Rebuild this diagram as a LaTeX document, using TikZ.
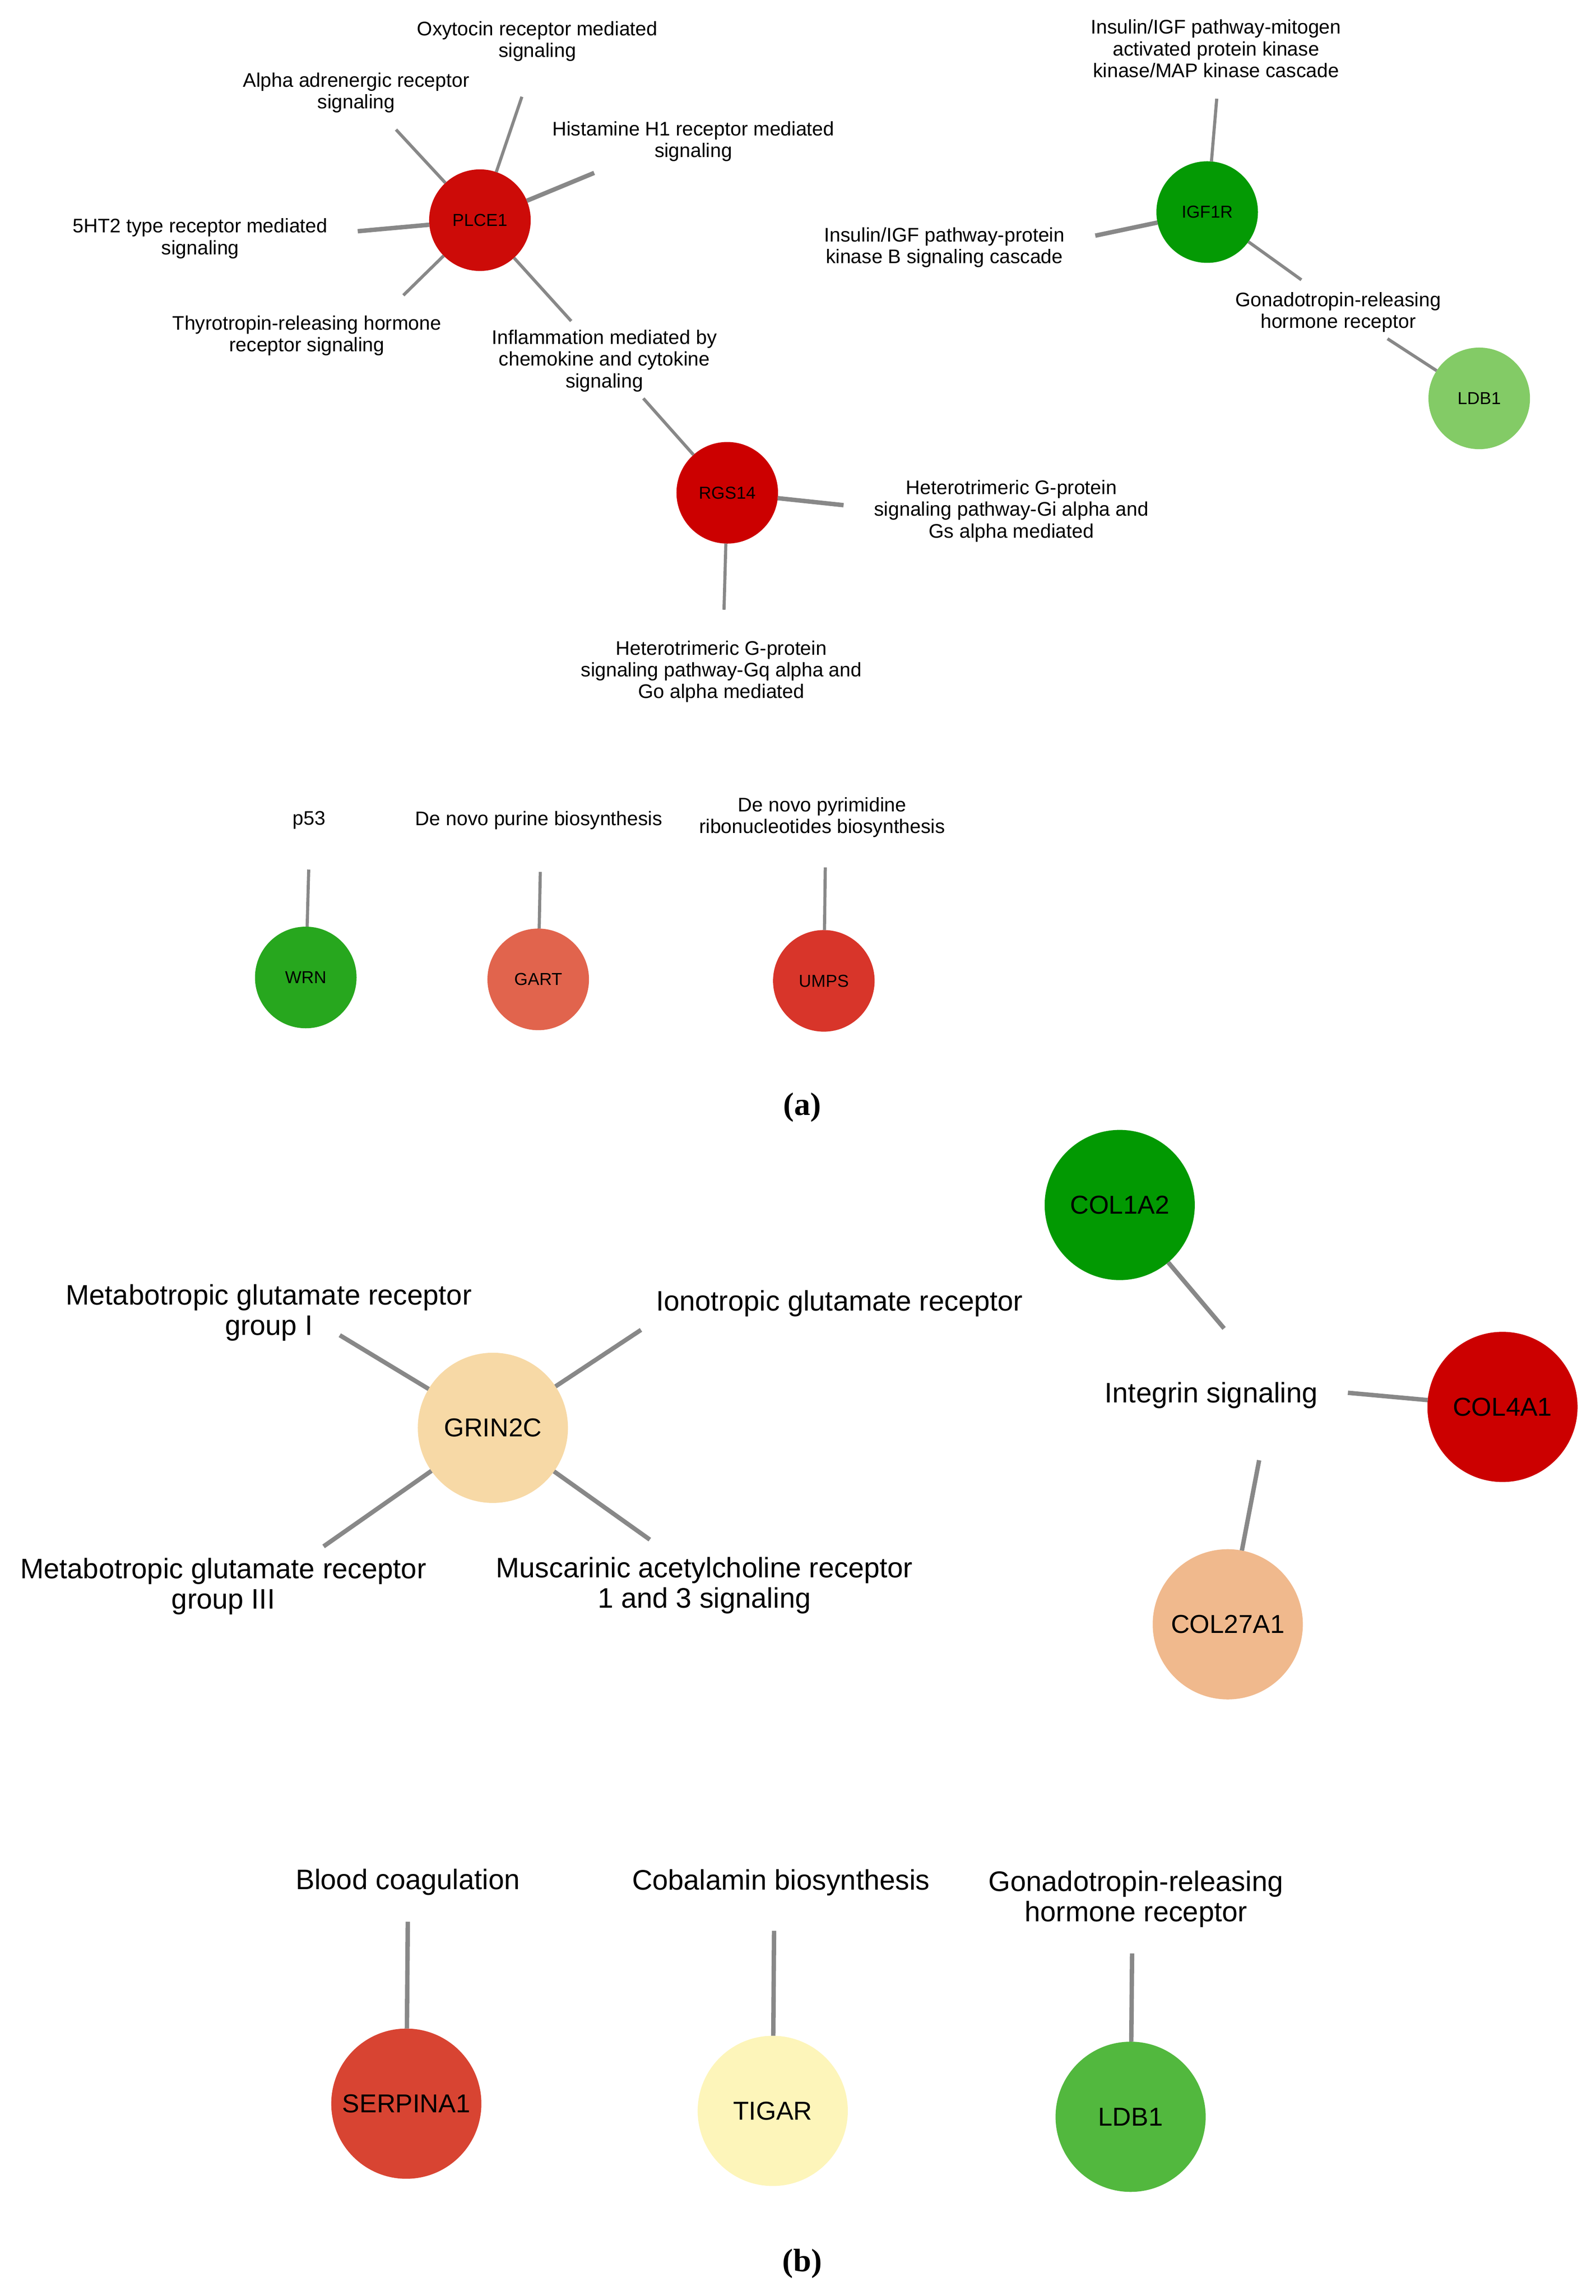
\documentclass[tikz,border=0pt]{standalone}
\usepackage{fontspec}
\usepackage{tikz}
\newfontfamily\arialfont{Liberation Sans}
\newfontfamily\capfont{Liberation Serif}
\definecolor{linkgray}{RGB}{136,136,136}
\definecolor{plcered}{RGB}{205,11,8}
\definecolor{rgsred}{RGB}{204,0,0}
\definecolor{igfgreen}{RGB}{4,154,4}
\definecolor{ldblight}{RGB}{131,203,102}
\definecolor{wrngreen}{RGB}{39,167,30}
\definecolor{gartred}{RGB}{225,100,77}
\definecolor{umpsred}{RGB}{216,53,42}
\definecolor{grinbeige}{RGB}{247,217,166}
\definecolor{colgreen}{RGB}{2,153,2}
\definecolor{colred}{RGB}{204,0,0}
\definecolor{colpeach}{RGB}{240,185,141}
\definecolor{serpred}{RGB}{216,68,50}
\definecolor{tigaryellow}{RGB}{253,245,186}
\definecolor{ldbgreen}{RGB}{82,184,62}

\begin{document}
\begin{tikzpicture}[x=0.02cm, y=-0.02cm,
    smallgene/.style={circle, minimum size=1.38cm, inner sep=0pt, outer sep=0pt, font=\arialfont\fontsize{6.7}{7.5}\selectfont},
    biggene/.style={circle, minimum size=2.04cm, inner sep=0pt, outer sep=0pt, font=\arialfont\fontsize{10}{11.5}\selectfont},
    smallterm/.style={align=center, inner sep=0pt, font=\arialfont\fontsize{7.6}{8.4}\selectfont},
    bigterm/.style={align=center, inner sep=0pt, font=\arialfont\fontsize{10.9}{11.8}\selectfont},
    link/.style={draw=linkgray, line width=1.2pt},
    thicklink/.style={draw=linkgray, line width=1.7pt},
    biglink/.style={draw=linkgray, line width=1.7pt},
    panel/.style={font=\capfont\bfseries\fontsize{12.5}{14}\selectfont}]
      \useasboundingbox (0,0) rectangle (1084,1559);

      \node[smallgene, fill=plcered] (plce) at (326,149.5) {PLCE1};
      \node[smallgene, fill=rgsred] (rgs) at (494,334.6) {RGS14};
      \node[smallgene, fill=igfgreen] (igf) at (820,144) {IGF1R};
      \node[smallgene, fill=ldblight] (ldba) at (1004.8,270.5) {LDB1};
      \node[smallgene, fill=wrngreen] (wrn) at (207.7,663.7) {WRN};
      \node[smallgene, fill=gartred] (gart) at (365.6,665) {GART};
      \node[smallgene, fill=umpsred] (umps) at (559.6,666) {UMPS};

      \node[smallterm] (oxy) at (365,28) {Oxytocin receptor mediated\\signaling};
      \node[smallterm] (alpha) at (242,63) {Alpha adrenergic receptor\\signaling};
      \node[smallterm] (hist) at (471,96) {Histamine H1 receptor mediated\\signaling};
      \node[smallterm] (ht) at (136,162) {5HT2 type receptor mediated\\signaling};
      \node[smallterm] (thyro) at (208.5,228) {Thyrotropin-releasing hormone\\receptor signaling};
      \node[smallterm] (inflam) at (410.5,245) {Inflammation mediated by\\chemokine and cytokine\\signaling};
      \node[smallterm] (gi) at (687,347) {Heterotrimeric G-protein\\signaling pathway-Gi alpha and\\Gs alpha mediated};
      \node[smallterm] (gq) at (490,456) {Heterotrimeric G-protein\\signaling pathway-Gq alpha and\\Go alpha mediated};
      \node[smallterm] (mapk) at (826,33) {Insulin/IGF pathway-mitogen\\activated protein kinase\\kinase/MAP kinase cascade};
      \node[smallterm] (pkb) at (641.5,168) {Insulin/IGF pathway-protein\\kinase B signaling cascade};
      \node[smallterm] (gnrha) at (909,212) {Gonadotropin-releasing\\hormone receptor};
      \node[smallterm] (p53) at (210,557) {p53};
      \node[smallterm] (purine) at (366,557) {De novo purine biosynthesis};
      \node[smallterm] (pyrim) at (558.5,555) {De novo pyrimidine\\ribonucleotides biosynthesis};

      \coordinate (e-oxy) at (354.5,65.7);
      \coordinate (e-alpha) at (269,88);
      \coordinate (e-hist) at (403.6,117.4);
      \coordinate (e-ht) at (243,157);
      \coordinate (e-thyro) at (274,200.5);
      \coordinate (e-inflam1) at (388,218);
      \coordinate (e-inflam2) at (437,270.5);
      \coordinate (e-gi) at (573,343);
      \coordinate (e-gq) at (491.8,414);
      \coordinate (e-mapk) at (826.5,67);
      \coordinate (e-pkb) at (744,160);
      \coordinate (e-gnrh1) at (884,190);
      \coordinate (e-gnrh2) at (942.5,230);
      \coordinate (e-p53) at (209.7,590.4);
      \coordinate (e-purine) at (367,592);
      \coordinate (e-pyrim) at (560.6,589);

      \draw[link] (plce) -- (e-oxy);
      \draw[link] (plce) -- (e-alpha);
      \draw[thicklink] (plce) -- (e-hist);
      \draw[thicklink] (plce) -- (e-ht);
      \draw[link] (plce) -- (e-thyro);
      \draw[link] (plce) -- (e-inflam1);
      \draw[link] (rgs) -- (e-inflam2);
      \draw[thicklink] (rgs) -- (e-gi);
      \draw[link] (rgs) -- (e-gq);
      \draw[link] (igf) -- (e-mapk);
      \draw[thicklink] (igf) -- (e-pkb);
      \draw[link] (igf) -- (e-gnrh1);
      \draw[link] (ldba) -- (e-gnrh2);
      \draw[link] (wrn) -- (e-p53);
      \draw[link] (gart) -- (e-purine);
      \draw[link] (umps) -- (e-pyrim);

      \node[panel] (capa) at (545,752) {(a)};

      \node[biggene, fill=grinbeige] (grin) at (334.8,969.5) {GRIN2C};
      \node[biggene, fill=colgreen] (cola) at (760.6,818.2) {COL1A2};
      \node[biggene, fill=colred] (colb) at (1020.6,955.3) {COL4A1};
      \node[biggene, fill=colpeach] (colc) at (834,1102.9) {COL27A1};
      \node[biggene, fill=serpred] (serp) at (276,1428.4) {SERPINA1};
      \node[biggene, fill=tigaryellow] (tigar) at (524.9,1433.3) {TIGAR};
      \node[biggene, fill=ldbgreen] (ldbb) at (768,1437.3) {LDB1};

      \node[bigterm] (mglua) at (182.6,891.3) {Metabotropic glutamate receptor\\group I};
      \node[bigterm] (iono) at (570.2,885) {Ionotropic glutamate receptor};
      \node[bigterm] (mglub) at (151.7,1077.2) {Metabotropic glutamate receptor\\group III};
      \node[bigterm] (musc) at (478.4,1076.5) {Muscarinic acetylcholine receptor\\1 and 3 signaling};
      \node[bigterm] (integ) at (822.8,947.5) {Integrin signaling};
      \node[bigterm] (blood) at (277,1278) {Blood coagulation};
      \node[bigterm] (cobal) at (530.5,1278.4) {Cobalamin biosynthesis};
      \node[bigterm] (gnrhb) at (771.6,1289.5) {Gonadotropin-releasing\\hormone receptor};

      \coordinate (e-mglua) at (230.8,906.6);
      \coordinate (e-iono) at (435.4,903);
      \coordinate (e-mglub) at (219.8,1050);
      \coordinate (e-musc) at (441.4,1045.4);
      \coordinate (e-integ1) at (831.5,902);
      \coordinate (e-integ2) at (915.6,945.7);
      \coordinate (e-integ3) at (855.3,991.5);
      \coordinate (e-blood) at (277,1304.8);
      \coordinate (e-cobal) at (525.8,1311);
      \coordinate (e-gnrh3) at (769,1326.4);

      \draw[biglink] (grin) -- (e-mglua);
      \draw[biglink] (grin) -- (e-iono);
      \draw[biglink] (grin) -- (e-mglub);
      \draw[biglink] (grin) -- (e-musc);
      \draw[biglink] (cola) -- (e-integ1);
      \draw[biglink] (colb) -- (e-integ2);
      \draw[biglink] (colc) -- (e-integ3);
      \draw[biglink] (serp) -- (e-blood);
      \draw[biglink] (tigar) -- (e-cobal);
      \draw[biglink] (ldbb) -- (e-gnrh3);

      \node[panel] (capb) at (545,1537) {(b)};
    \end{tikzpicture}
\end{document}
